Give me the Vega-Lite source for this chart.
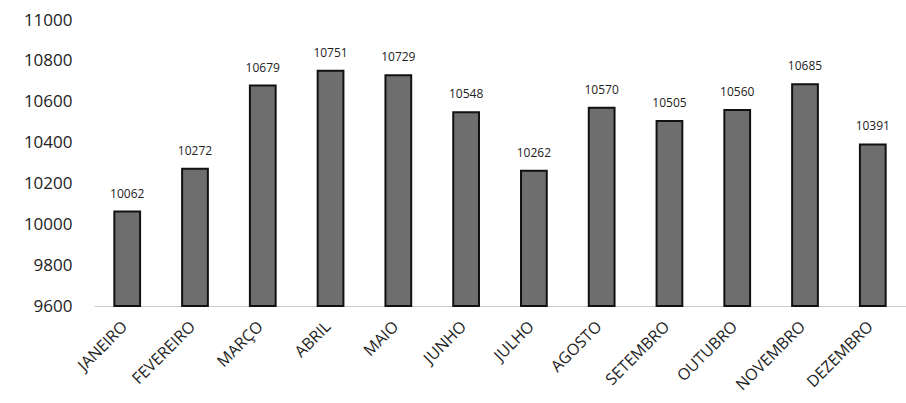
{
  "$schema": "https://vega.github.io/schema/vega-lite/v6.json",
  "autosize": {"type": "none"},
  "padding": {"left": 94, "top": 20, "right": 0, "bottom": 97},
  "width": 812,
  "height": 286,
  "background": "white",
  "config": {"view": {"stroke": null}, "font": "Open Sans"},
  "data": {"values": [
    {"mes": "JANEIRO", "valor": 10062},
    {"mes": "FEVEREIRO", "valor": 10272},
    {"mes": "MARÇO", "valor": 10679},
    {"mes": "ABRIL", "valor": 10751},
    {"mes": "MAIO", "valor": 10729},
    {"mes": "JUNHO", "valor": 10548},
    {"mes": "JULHO", "valor": 10262},
    {"mes": "AGOSTO", "valor": 10570},
    {"mes": "SETEMBRO", "valor": 10505},
    {"mes": "OUTUBRO", "valor": 10560},
    {"mes": "NOVEMBRO", "valor": 10685},
    {"mes": "DEZEMBRO", "valor": 10391}
  ]},
  "encoding": {
    "x": {"field": "mes", "type": "nominal", "sort": null,
      "scale": {"paddingInner": 0.62, "paddingOuter": 0.3},
      "axis": {"title": null, "labelAngle": -45, "labelFontSize": 16, "labelColor": "#222", "ticks": false, "domainColor": "#cccccc", "labelPadding": 12, "labelOffset": -8, "labelFont": "Open Sans"}},
    "y": {"field": "valor", "type": "quantitative",
      "scale": {"domain": [9600, 11000], "zero": false, "nice": false},
      "axis": {"title": null, "format": "d", "values": [9600, 9800, 10000, 10200, 10400, 10600, 10800, 11000], "grid": false, "domain": false, "ticks": false, "labelFontSize": 17, "labelColor": "#222", "labelPadding": 22, "labelFont": "Open Sans"}}
  },
  "layer": [
    {"mark": {"type": "bar", "color": "#6e6e6e", "stroke": "#111", "strokeWidth": 2},
     "encoding": {"y2": {"datum": 9600}}},
    {"mark": {"type": "text", "dy": -18, "fontSize": 12, "color": "#222"},
     "encoding": {"text": {"field": "valor", "type": "quantitative", "format": "d"}}}
  ]
}
